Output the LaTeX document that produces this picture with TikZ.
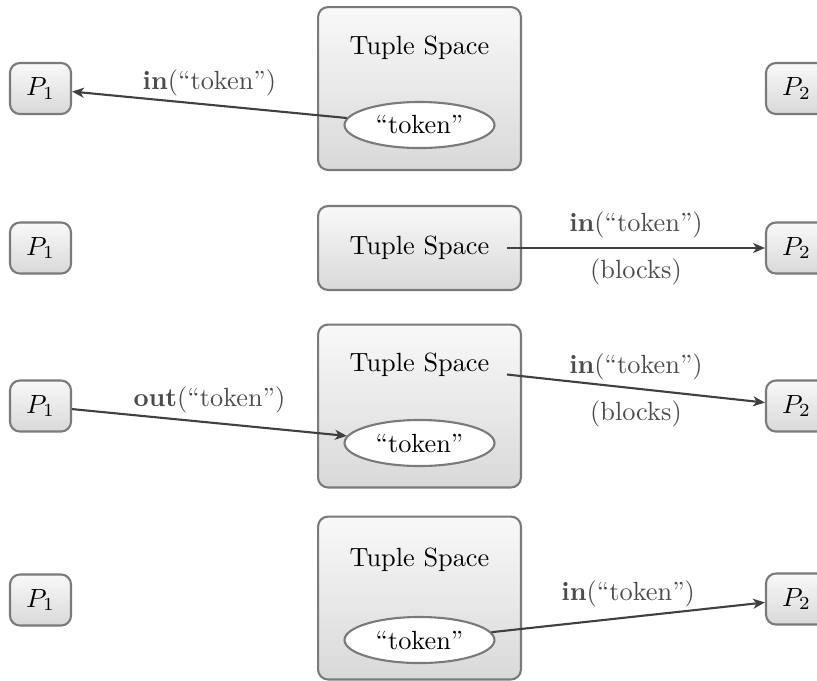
\documentclass[tikz,border=0pt]{standalone}
\usetikzlibrary{arrows.meta,shapes.geometric}
\begin{document}
\begin{tikzpicture}[x=0.38pt,y=-0.38pt,
  proc/.style={draw=black!52,line width=0.8pt,rounded corners=3.8pt,
    top color=gray!5,bottom color=gray!30,
    minimum width=23.2pt,minimum height=19.4pt,inner sep=0pt},
  space/.style={draw=black!52,line width=0.8pt,rounded corners=3.8pt,
    top color=gray!5,bottom color=gray!30,
    minimum width=77.1pt,inner sep=0pt},
  tall/.style={space,minimum height=61.9pt},
  short/.style={space,minimum height=31.9pt},
  tok/.style={ellipse,draw=black!52,line width=0.8pt,fill=white,
    minimum width=57pt,minimum height=17.5pt,inner sep=0pt},
  title/.style={inner xsep=6.5pt,inner ysep=3pt},
  msg/.style={draw=black!75,line width=0.8pt,
    -{Stealth[length=4.5pt,width=3.8pt,inset=1.3pt]}},
  lbl/.style={text=black!70}]
\useasboundingbox (0,0) rectangle (817,680);
\clip (0,0) rectangle (817,680);

% Row 1
\node[tall] (s1) at (419.5,88.5) {};
\node[title] (t1) at (419.5,48) {Tuple Space};
\node[tok] (e1) at (419.5,125) {``token''};
\node[proc] (a1) at (40.5,88.5) {$P_1$};
\node[proc] (b1) at (796.5,88.5) {$P_2$};
\draw[msg] (e1) -- node[lbl,midway,above=-0.5pt] {\textbf{in}(``token'')} (a1);

% Row 2
\node[short] (s2) at (419.5,248) {};
\node[title] (t2) at (419.5,248) {Tuple Space};
\node[proc] (a2) at (40.5,248) {$P_1$};
\node[proc] (b2) at (796.5,248) {$P_2$};
\draw[msg] (t2) -- node[lbl,midway,above=0.2pt] {\textbf{in}(``token'')}
  node[lbl,midway,below=0.3pt] {(blocks)} (b2);

% Row 3
\node[tall] (s3) at (419.5,406) {};
\node[title] (t3) at (419.5,365) {Tuple Space};
\node[tok] (e3) at (419.5,443) {``token''};
\node[proc] (a3) at (40.5,406) {$P_1$};
\node[proc] (b3) at (796.5,406) {$P_2$};
\draw[msg] (a3) -- node[lbl,midway,above] {\textbf{out}(``token'')} (e3);
\draw[msg] (t3) -- node[lbl,midway,above=-0.5pt] {\textbf{in}(``token'')}
  node[lbl,midway,below=1pt] {(blocks)} (b3);

% Row 4
\node[tall] (s4) at (419.5,598) {};
\node[title] (t4) at (419.5,560) {Tuple Space};
\node[tok] (e4) at (419.5,640) {``token''};
\node[proc] (a4) at (40.5,600) {$P_1$};
\node[proc] (b4) at (796.5,599) {$P_2$};
\draw[msg] (e4) -- node[lbl,midway,above] {\textbf{in}(``token'')} (b4);
\end{tikzpicture}
\end{document}
